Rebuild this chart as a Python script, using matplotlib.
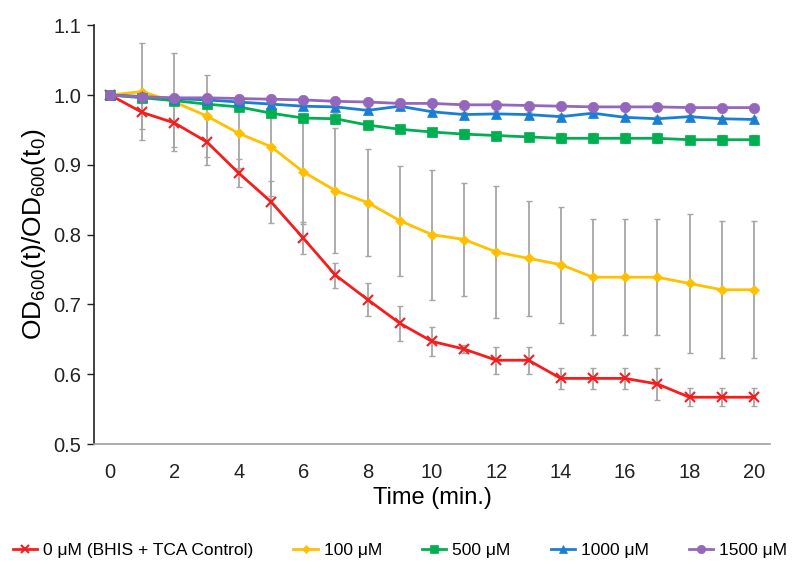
import numpy as np
import matplotlib.pyplot as plt

plt.rcParams['font.family'] = ['Liberation Sans', 'DejaVu Sans']
plt.rcParams['mathtext.default'] = 'regular'

time = np.arange(0, 21)

labels = ['0 μM (BHIS + TCA Control)', '100 μM', '500 μM', '1000 μM', '1500 μM']

ctrl = [1.0, 0.975, 0.96, 0.933, 0.888, 0.847, 0.795, 0.742, 0.707, 0.673, 0.647,
        0.636, 0.62, 0.62, 0.594, 0.594, 0.594, 0.586, 0.567, 0.567, 0.567]
ctrl_err = [0.0, 0.023, 0.035, 0.033, 0.02, 0.03, 0.023, 0.018, 0.023, 0.025, 0.021,
            0.006, 0.019, 0.019, 0.015, 0.015, 0.015, 0.023, 0.013, 0.013, 0.013]

c100 = [1.0, 1.005, 0.99, 0.97, 0.945, 0.926, 0.89, 0.863, 0.846, 0.82, 0.80,
        0.793, 0.775, 0.766, 0.757, 0.739, 0.739, 0.739, 0.73, 0.721, 0.721]
c100_err = [0.0, 0.07, 0.07, 0.059, 0.05, 0.07, 0.075, 0.09, 0.077, 0.079, 0.093,
            0.081, 0.095, 0.082, 0.083, 0.083, 0.083, 0.083, 0.1, 0.098, 0.098]

c500 = [1.0, 0.996, 0.992, 0.987, 0.983, 0.974, 0.967, 0.966, 0.957, 0.951, 0.947,
        0.944, 0.942, 0.94, 0.938, 0.938, 0.938, 0.938, 0.936, 0.936, 0.936]
c500_err = [0.0, 0.004, 0.004, 0.005, 0.005, 0.005, 0.006, 0.008, 0.005, 0.006, 0.005,
            0.007, 0.005, 0.005, 0.007, 0.007, 0.007, 0.007, 0.006, 0.007, 0.007]

c1000 = [1.0, 0.998, 0.995, 0.993, 0.99, 0.987, 0.984, 0.983, 0.978, 0.984, 0.976,
         0.972, 0.973, 0.972, 0.969, 0.974, 0.968, 0.966, 0.969, 0.966, 0.965]
c1000_err = [0.0, 0.003, 0.003, 0.003, 0.004, 0.003, 0.003, 0.004, 0.003, 0.004, 0.003,
             0.003, 0.004, 0.003, 0.004, 0.003, 0.003, 0.004, 0.003, 0.003, 0.003]

c1500 = [1.0, 0.997, 0.996, 0.996, 0.995, 0.994, 0.993, 0.991, 0.99, 0.988, 0.988,
         0.986, 0.986, 0.985, 0.984, 0.983, 0.983, 0.983, 0.982, 0.982, 0.982]
c1500_err = [0.0, 0.002, 0.002, 0.002, 0.002, 0.002, 0.002, 0.002, 0.002, 0.002, 0.002,
             0.002, 0.002, 0.002, 0.002, 0.002, 0.002, 0.002, 0.002, 0.002, 0.002]

series = [ctrl, c100, c500, c1000, c1500]
errors = [ctrl_err, c100_err, c500_err, c1000_err, c1500_err]
colors = ['#f51d1d', '#ffc000', '#00b050', '#1a7fd4', '#9467bd']
markers = ['x', 'D', 's', '^', 'o']
msizes = [6.5, 5.5, 7, 6.5, 7.5]

fig = plt.figure(figsize=(8, 5.87), dpi=100)
ax = fig.add_axes([0.1175, 0.2436, 0.845, 0.7134])

# error bars sit behind every series
for i in range(5):
    ax.errorbar(time, series[i], yerr=errors[i], fmt='none', ecolor='#a6a6a6',
                elinewidth=1.3, capsize=2, capthick=1.0, zorder=1)

for i in range(5):
    ax.plot(time, series[i], color=colors[i], marker=markers[i], markersize=msizes[i],
            linewidth=2, markeredgewidth=1.5 if markers[i] == 'x' else 0.5,
            label=labels[i], zorder=2 + i)

ax.set_xlim(-0.5, 20.5)
ax.set_ylim(0.5, 1.1)
ax.set_xticks(range(0, 21, 2))
ax.set_yticks(np.arange(0.5, 1.11, 0.1))
ax.set_yticklabels([f'{v:.1f}' for v in np.arange(0.5, 1.11, 0.1)])
ax.tick_params(axis='x', length=0, pad=14, labelsize=14.5, colors='#222222')
ax.tick_params(axis='y', length=5, width=1, pad=4, labelsize=14.5, colors='#222222')

for s in ['top', 'right']:
    ax.spines[s].set_visible(False)
ax.spines['left'].set_color('#222222')
ax.spines['left'].set_linewidth(1.2)
ax.spines['bottom'].set_color('#a0a0a0')
ax.spines['bottom'].set_linewidth(1.2)

ax.set_xlabel('Time (min.)', fontsize=17, labelpad=3)
ax.set_ylabel('OD$_{600}$(t)/OD$_{600}$(t$_0$)', fontsize=19, labelpad=4)

fig.legend(loc='center', bbox_to_anchor=(0.5, 0.063), ncol=5, frameon=False,
           fontsize=12.5, handlelength=1.4, columnspacing=2.3, handletextpad=0.35,
           markerscale=0.8)

fig.savefig('out.png', dpi=100)
